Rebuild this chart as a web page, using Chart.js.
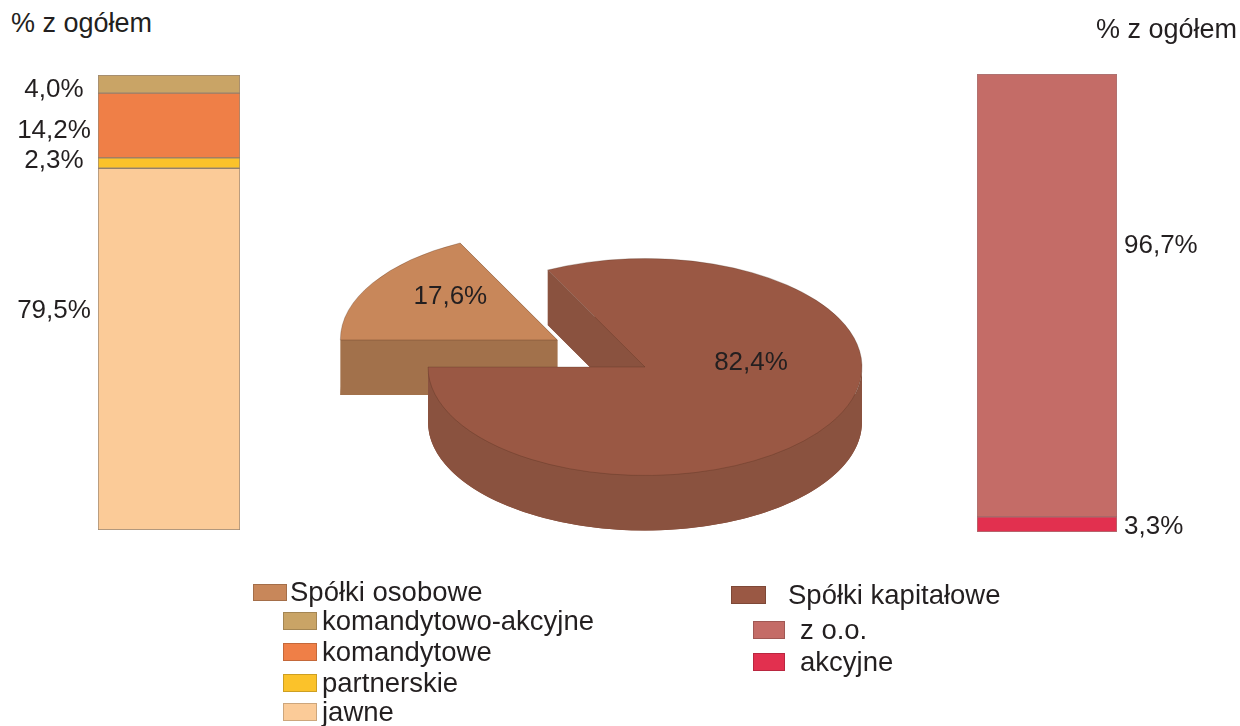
<!DOCTYPE html>
<html><head><meta charset="utf-8">
<script src="https://cdn.jsdelivr.net/npm/chart.js@4.4.1/dist/chart.umd.min.js"></script>
<style>
html,body{margin:0;padding:0;background:#fff;}
#wrap{position:relative;width:1240px;height:726px;overflow:hidden;font-family:"Liberation Sans",Arial,sans-serif;color:#231f20;background:#fff;}
canvas{position:absolute;}
.t{position:absolute;white-space:nowrap;line-height:30px;}
.sw{position:absolute;box-sizing:border-box;border:1px solid rgba(0,0,0,0.18);}
</style></head><body>
<div id="wrap">
  <canvas id="leftBar" width="260" height="490" style="left:0;top:60px"></canvas>
  <canvas id="pie" width="690" height="544" style="left:300px;top:95px"></canvas>
  <canvas id="rightBar" width="280" height="490" style="left:960px;top:60px"></canvas>
  <div class="t" id="titleL" style="left:11px;top:8px;font-size:27px"></div>
  <div class="t" id="titleR" style="right:3px;top:14px;font-size:27px"></div>
  <div id="legend"></div>
</div>
<script>
// ---------------- data ----------------
const axisTitle = '% z ogółem';
const pieCategories = ['Spółki osobowe', 'Spółki kapitałowe'];
const pieValues = [17.6, 82.4];
const pieLabels = ['17,6%', '82,4%'];
const osoboweCategories = ['jawne', 'partnerskie', 'komandytowe', 'komandytowo-akcyjne'];
const osoboweValues = [79.5, 2.3, 14.2, 4.0];
const osoboweLabels = ['79,5%', '2,3%', '14,2%', '4,0%'];
const kapitaloweCategories = ['akcyjne', 'z o.o.'];
const kapitaloweValues = [3.3, 96.7];
const kapitaloweLabels = ['3,3%', '96,7%'];

// ---------------- styles ----------------
const FONT = '"Liberation Sans", Arial, sans-serif';
const TEXT = '#231f20';
const pieTopColors = ['#C8875A', '#9A5844'];
const pieSideColors = ['#A2714B', '#8A523F'];
const osoboweColors = ['#FBCB98', '#FBC22A', '#EF7F47', '#C9A466'];
const kapitaloweColors = ['#E2304F', '#C46C67'];

document.getElementById('titleL').textContent = axisTitle;
document.getElementById('titleR').textContent = axisTitle;

// ---------------- stacked bars ----------------
const stackLabelPlugin = {
  id: 'stackLabels',
  afterDatasetsDraw(chart, args, o) {
    const ctx = chart.ctx;
    ctx.save();
    ctx.font = '26px ' + FONT;
    ctx.fillStyle = TEXT;
    ctx.textBaseline = 'middle';
    chart.data.datasets.forEach((ds, i) => {
      const bar = chart.getDatasetMeta(i).data[0];
      const y = (bar.y + bar.base) / 2 + (o.shifts[i] || 0);
      if (o.side === 'left') {
        ctx.textAlign = 'center';
        ctx.fillText(o.labels[i], bar.x - bar.width / 2 - o.gap, y);
      } else {
        ctx.textAlign = 'left';
        ctx.fillText(o.labels[i], bar.x + bar.width / 2 + o.gap, y);
      }
    });
    ctx.restore();
  }
};

function makeStack(id, cats, vals, labels, colors, border, padding, side, gap, shifts) {
  return new Chart(document.getElementById(id), {
    type: 'bar',
    data: {
      labels: [''],
      datasets: cats.map((c, i) => ({
        label: c, data: [vals[i]], backgroundColor: colors[i],
        borderColor: border, borderWidth: 1, borderSkipped: false,
        categoryPercentage: 1, barPercentage: 1
      }))
    },
    options: {
      responsive: false, animation: false, events: [],
      layout: { padding },
      plugins: { legend: { display: false }, tooltip: { enabled: false },
        stackLabels: { labels, side, gap, shifts } },
      scales: {
        x: { stacked: true, display: false },
        y: { stacked: true, display: false, min: 0, max: 100 }
      }
    },
    plugins: [stackLabelPlugin]
  });
}

makeStack('leftBar', osoboweCategories, osoboweValues, osoboweLabels, osoboweColors,
  'rgba(120,95,70,0.75)', { left: 98, right: 20, top: 15, bottom: 20 }, 'left', 44, [-38, -2, 5, 6]);
makeStack('rightBar', kapitaloweCategories, kapitaloweValues, kapitaloweLabels, kapitaloweColors,
  'rgba(140,70,70,0.75)', { left: 17, right: 123, top: 14, bottom: 18 }, 'right', 7, [2, -50]);

// ---------------- 3D pie ----------------
function explodeVector(arc, amount) {
  const mid = (arc.startAngle + arc.endAngle) / 2;
  return [Math.cos(mid) * amount, Math.sin(mid) * amount];
}

function drawWall(ctx, ax, ay, R, s, e, D, color) {
  ctx.fillStyle = color;
  // bottom face
  ctx.beginPath(); ctx.moveTo(ax, ay + D); ctx.arc(ax, ay + D, R, s, e); ctx.closePath(); ctx.fill();
  // front part of the rim
  for (let k = -1; k <= 2; k++) {
    const lo = Math.max(s, 2 * Math.PI * k), hi = Math.min(e, 2 * Math.PI * k + Math.PI);
    if (hi > lo) {
      ctx.beginPath();
      ctx.arc(ax, ay, R, lo, hi);
      ctx.lineTo(ax + R * Math.cos(hi), ay + D + R * Math.sin(hi));
      ctx.arc(ax, ay + D, R, hi, lo, true);
      ctx.closePath(); ctx.fill();
    }
  }
  // radial cut faces
  [s, e].forEach(t => {
    const px = ax + R * Math.cos(t), py = ay + R * Math.sin(t);
    ctx.beginPath();
    ctx.moveTo(ax, ay); ctx.lineTo(px, py); ctx.lineTo(px, py + D); ctx.lineTo(ax, ay + D);
    ctx.closePath(); ctx.fill();
  });
}

const pie3dPlugin = {
  id: 'pie3d',
  beforeDatasetsDraw(chart, args, o) {
    const ctx = chart.ctx, a = chart.chartArea;
    const cx = (a.left + a.right) / 2, cy = (a.top + a.bottom) / 2;
    ctx.save();
    ctx.translate(cx, cy); ctx.scale(1, o.tilt); ctx.translate(-cx, -cy);
    const D = o.depth / o.tilt;
    chart.getDatasetMeta(0).data.forEach((arc, i) => {
      const [dx, dy] = explodeVector(arc, o.explode[i] || 0);
      if (!arc.__exploded) {
        const baseDraw = Object.getPrototypeOf(arc).draw;
        arc.draw = function (c) {
          const [ex, ey] = explodeVector(this, o.explode[i] || 0);
          c.save(); c.translate(ex, ey); baseDraw.call(this, c); c.restore();
        };
        arc.__exploded = true;
      }
      drawWall(ctx, arc.x + dx, arc.y + dy, arc.outerRadius, arc.startAngle, arc.endAngle, D, o.sideColors[i]);
    });
  },
  afterDatasetsDraw(chart) { chart.ctx.restore(); },
  afterDraw(chart, args, o) {
    const ctx = chart.ctx, a = chart.chartArea;
    const cy = (a.top + a.bottom) / 2;
    ctx.save();
    ctx.font = '26px ' + FONT;
    ctx.fillStyle = TEXT;
    ctx.textAlign = 'center';
    ctx.textBaseline = 'middle';
    chart.getDatasetMeta(0).data.forEach((arc, i) => {
      const [dx, dy] = explodeVector(arc, o.explode[i] || 0);
      const ax = arc.x + dx;
      const ay = cy + (arc.y + dy - cy) * o.tilt;
      ctx.fillText(o.labels[i], ax + o.labelOffsets[i][0], ay + o.labelOffsets[i][1]);
    });
    ctx.restore();
  }
};

new Chart(document.getElementById('pie'), {
  type: 'pie',
  data: {
    labels: pieCategories,
    datasets: [{
      data: pieValues, backgroundColor: pieTopColors,
      borderWidth: 1, borderColor: 'rgba(70,40,25,0.35)',
      hoverOffset: 0, radius: 217, clip: false
    }]
  },
  options: {
    responsive: false, animation: false, events: [],
    rotation: 270,
    layout: { padding: 0 },
    plugins: { legend: { display: false }, tooltip: { enabled: false },
      pie3d: { tilt: 0.5, depth: 55, explode: [103, 0], sideColors: pieSideColors, labels: pieLabels,
        labelOffsets: [[-107, -43], [106, -4]] } }
  },
  plugins: [pie3dPlugin]
});

// ---------------- legend ----------------
const legend = document.getElementById('legend');
function addItem(label, color, sw, textX, cy) {
  const s = document.createElement('div');
  s.className = 'sw';
  s.style.cssText = `left:${sw.x}px;top:${cy - sw.h / 2}px;width:${sw.w}px;height:${sw.h}px;background:${color}`;
  legend.appendChild(s);
  const t = document.createElement('div');
  t.className = 't';
  t.style.cssText = `left:${textX}px;top:${cy - 15}px;font-size:27.5px`;
  t.textContent = label;
  legend.appendChild(t);
}
addItem(pieCategories[0], pieTopColors[0], { x: 253, w: 34, h: 17 }, 290, 592);
const leftRows = [621, 652, 683, 712];
osoboweCategories.slice().reverse().forEach((c, i) => {
  const idx = osoboweCategories.length - 1 - i;
  addItem(c, osoboweColors[idx], { x: 283, w: 34, h: 18 }, 322, leftRows[i]);
});
addItem(pieCategories[1], pieTopColors[1], { x: 731, w: 35, h: 18 }, 788, 595);
const rightRows = [630, 662];
kapitaloweCategories.slice().reverse().forEach((c, i) => {
  const idx = kapitaloweCategories.length - 1 - i;
  addItem(c, kapitaloweColors[idx], { x: 753, w: 32, h: 18 }, 800, rightRows[i]);
});
</script>
</body></html>
